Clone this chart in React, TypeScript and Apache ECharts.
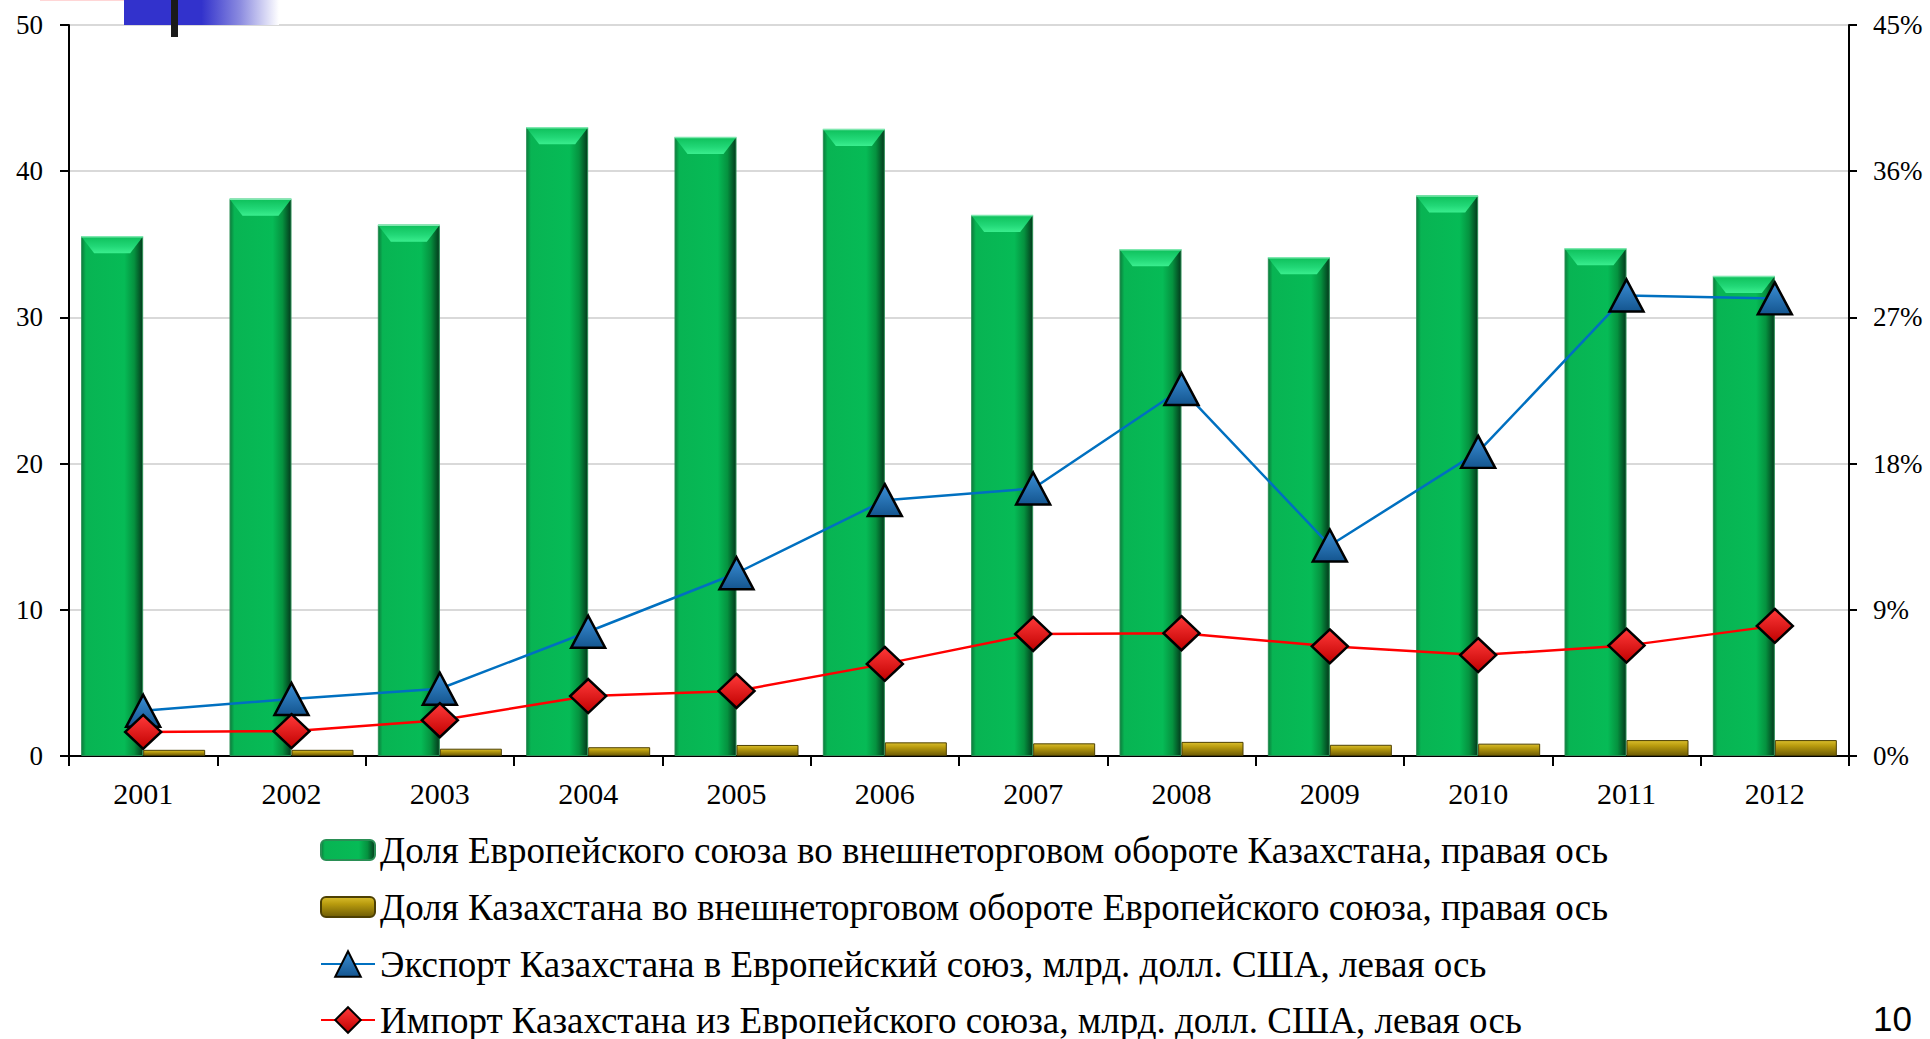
import React, { useEffect, useRef } from "react";
import * as echarts from "echarts";

const categories = ["2001", "2002", "2003", "2004", "2005", "2006", "2007", "2008", "2009", "2010", "2011", "2012"];
// Доля ЕС во внешнеторговом обороте Казахстана, % (правая ось)
const euShareInKz = [32.0, 34.3, 32.7, 38.7, 38.1, 38.6, 33.3, 31.2, 30.7, 34.5, 31.25, 29.55];
// Доля Казахстана во внешнеторговом обороте ЕС, % (правая ось)
const kzShareInEu = [0.38, 0.38, 0.45, 0.54, 0.68, 0.84, 0.78, 0.87, 0.69, 0.76, 0.98, 0.98];
// Экспорт Казахстана в ЕС, млрд долл. США (левая ось)
const exportToEu = [3.1, 3.9, 4.6, 8.5, 12.5, 17.5, 18.3, 25.1, 14.4, 20.8, 31.5, 31.3];
// Импорт Казахстана из ЕС, млрд долл. США (левая ось)
const importFromEu = [1.65, 1.7, 2.45, 4.1, 4.45, 6.3, 8.35, 8.4, 7.5, 6.9, 7.55, 8.9];

const seriesNames = [
  "Доля Европейского союза во внешнеторговом обороте Казахстана, правая ось",
  "Доля Казахстана во внешнеторговом обороте Европейского союза, правая ось",
  "Экспорт Казахстана в Европейский союз, млрд. долл. США, левая ось",
  "Импорт Казахстана из Европейского союза, млрд. долл. США, левая ось",
];

const FONT = "'Liberation Serif', 'Times New Roman', serif";
const BAR_W = 62;

export default function App() {
  const ref = useRef<HTMLDivElement>(null);

  useEffect(() => {
    if (!ref.current) return;
    const chart = echarts.init(ref.current, undefined, { renderer: "svg" });

    const greenFill = new echarts.graphic.LinearGradient(0, 0, 1, 0, [
      { offset: 0, color: "#0b7d3c" },
      { offset: 0.07, color: "#08b453" },
      { offset: 0.7, color: "#06bb56" },
      { offset: 0.86, color: "#05923f" },
      { offset: 1, color: "#033a1c" },
    ]);
    const goldFill = new echarts.graphic.LinearGradient(0, 0, 0, 1, [
      { offset: 0, color: "#d9bd2c" },
      { offset: 0.35, color: "#b89b0e" },
      { offset: 1, color: "#6e5c05" },
    ]);
    const blueFill = new echarts.graphic.LinearGradient(0, 0, 0, 1, [
      { offset: 0, color: "#3b8fd6" },
      { offset: 1, color: "#14558f" },
    ]);
    const redFill = new echarts.graphic.LinearGradient(0, 0, 0, 1, [
      { offset: 0, color: "#ff3a3a" },
      { offset: 1, color: "#c00000" },
    ]);
    const capFill = new echarts.graphic.LinearGradient(0, 0, 0, 1, [
      { offset: 0, color: "#0dbf5a" },
      { offset: 0.6, color: "#22d877" },
      { offset: 1, color: "#3aee8e" },
    ]);

    const capRender = (params: any, api: any) => {
      const idx = api.value(0);
      const v = api.value(1);
      const p = api.coord([idx, v]);
      const left = p[0] - BAR_W;
      const right = p[0];
      const top = p[1];
      const h = 17;
      const inset = 13;
      return {
        type: "group",
        children: [
          {
            type: "polygon",
            shape: {
              points: [
                [left, top],
                [right, top],
                [right - inset, top + h],
                [left + inset, top + h],
              ],
            },
            style: { fill: capFill },
          },
          {
            type: "line",
            shape: { x1: left, y1: top + 0.5, x2: right, y2: top + 0.5 },
            style: { stroke: "#7fe8b0", lineWidth: 1.5 },
          },
        ],
      };
    };

    const legendRowCenters = [850, 907, 964, 1020];
    const legendItemHeights = [20, 20, 32, 32];
    const legends = seriesNames.map((n, i) => ({
      orient: "horizontal",
      left: 320,
      top: legendRowCenters[i] - 19,
      padding: 0,
      itemWidth: 54,
      itemHeight: legendItemHeights[i],
      textStyle: { fontFamily: FONT, fontSize: 37, color: "#000", lineHeight: 38 },
      data: [n],
    }));

    chart.setOption({
      animation: false,
      textStyle: { fontFamily: FONT, color: "#000" },
      grid: { left: 69, right: 81, top: 25, bottom: 283, containLabel: false },
      graphic: [
        {
          type: "rect",
          shape: { x: 40, y: 0, width: 116, height: 1 },
          style: { fill: "#ffd6d6" },
        },
        {
          type: "rect",
          shape: { x: 124, y: 0, width: 155, height: 25 },
          style: {
            fill: new echarts.graphic.LinearGradient(0, 0, 1, 0, [
              { offset: 0, color: "#3232cc" },
              { offset: 0.5, color: "#3232cc" },
              { offset: 0.75, color: "#8c8ce0" },
              { offset: 1, color: "#ffffff" },
            ]),
          },
          z: 10,
        },
        {
          type: "rect",
          shape: { x: 171, y: 0, width: 7, height: 37 },
          style: { fill: "#1a1a1a" },
          z: 11,
        },
        {
          type: "text",
          left: 1873,
          top: 1001,
          style: { text: "10", fontFamily: "'Liberation Sans', Arial, sans-serif", fontSize: 35, fill: "#000" },
        },
      ],
      legend: legends,
      xAxis: {
        type: "category",
        data: categories,
        boundaryGap: true,
        axisLine: { lineStyle: { color: "#000", width: 2 } },
        axisTick: { show: true, length: 10, lineStyle: { color: "#000", width: 2 } },
        axisLabel: { fontFamily: FONT, fontSize: 30, color: "#000", margin: 22 },
      },
      yAxis: [
        {
          type: "value",
          min: 0,
          max: 50,
          interval: 10,
          axisLine: { show: true, lineStyle: { color: "#000", width: 2 } },
          axisTick: { show: true, length: 9, lineStyle: { color: "#000", width: 2 } },
          axisLabel: { fontFamily: FONT, fontSize: 27, color: "#000", margin: 26 },
          splitLine: { show: true, lineStyle: { color: "#d9d9d9", width: 2 } },
        },
        {
          type: "value",
          min: 0,
          max: 45,
          interval: 9,
          position: "right",
          axisLine: { show: true, lineStyle: { color: "#000", width: 2 } },
          axisTick: { show: true, length: 8, lineStyle: { color: "#000", width: 2 } },
          axisLabel: { fontFamily: FONT, fontSize: 27, color: "#000", margin: 24, formatter: "{value}%" },
          splitLine: { show: false },
        },
      ],
      series: [
        {
          name: seriesNames[0],
          type: "bar",
          yAxisIndex: 1,
          data: euShareInKz,
          barWidth: BAR_W,
          barGap: "0%",
          itemStyle: { color: greenFill, borderColor: "#2a8f55", borderWidth: 1 },
          z: 2,
        },
        {
          name: seriesNames[1],
          type: "bar",
          yAxisIndex: 1,
          data: kzShareInEu,
          barWidth: BAR_W,
          barGap: "0%",
          itemStyle: { color: goldFill, borderColor: "#4d4003", borderWidth: 1 },
          z: 2,
        },
        {
          name: "caps",
          type: "custom",
          yAxisIndex: 1,
          data: euShareInKz.map((v, i) => [i, v]),
          encode: { x: 0, y: 1 },
          renderItem: capRender,
          silent: true,
          z: 3,
        },
        {
          name: seriesNames[2],
          type: "line",
          yAxisIndex: 0,
          data: exportToEu,
          symbol: "triangle",
          symbolSize: [34, 32],
          lineStyle: { color: "#0070c0", width: 2.5 },
          itemStyle: { color: blueFill, borderColor: "#000", borderWidth: 2.5 },
          z: 5,
        },
        {
          name: seriesNames[3],
          type: "line",
          yAxisIndex: 0,
          data: importFromEu,
          symbol: "diamond",
          symbolSize: [36, 34],
          lineStyle: { color: "#ff0000", width: 2.5 },
          itemStyle: { color: redFill, borderColor: "#000", borderWidth: 2.5 },
          z: 5,
        },
      ],
    });

    return () => chart.dispose();
  }, []);

  return (
    <div
      ref={ref}
      style={{ position: "fixed", left: 0, top: 0, width: 1930, height: 1039, background: "#fff" }}
    />
  );
}
